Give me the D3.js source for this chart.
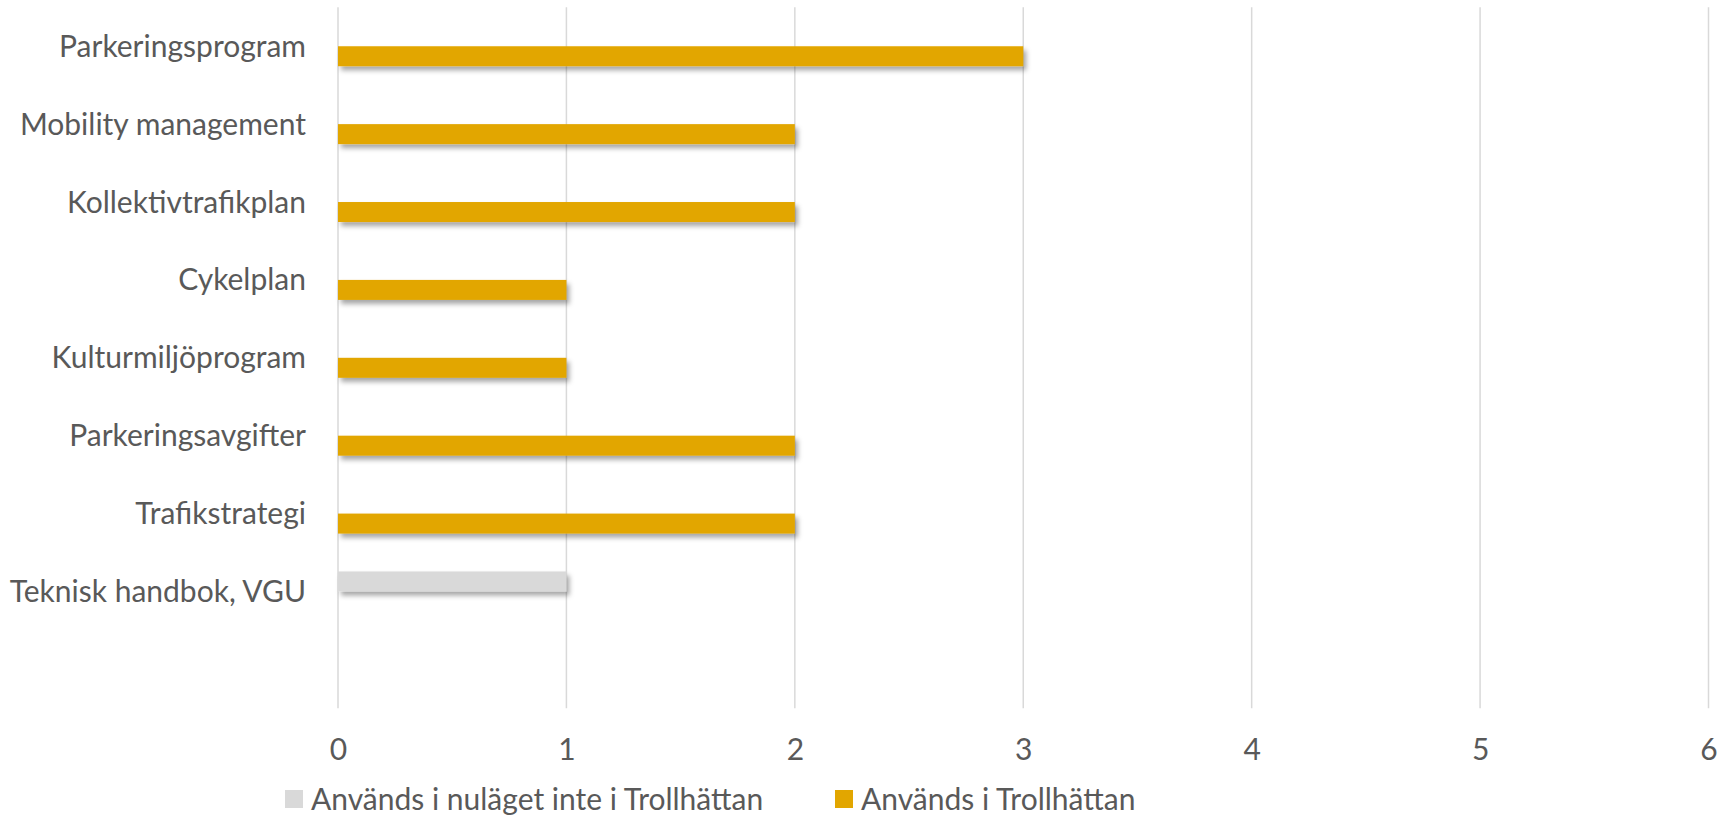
<!DOCTYPE html>
<html>
<head>
<meta charset="utf-8">
<script src="https://cdn.jsdelivr.net/npm/d3@7"></script>
<style>
  html, body { margin: 0; padding: 0; background: #fff; }
  svg { display: block; }
  text { font-family: Lato, "Open Sans", sans-serif; fill: #595959; }
</style>
</head>
<body>
<svg id="chart" width="1729" height="815"></svg>
<script>
const categories = ["Parkeringsprogram", "Mobility management", "Kollektivtrafikplan", "Cykelplan",
  "Kulturmiljöprogram", "Parkeringsavgifter", "Trafikstrategi", "Teknisk handbok, VGU", ""];
const seriesNames = ["Används i nuläget inte i Trollhättan", "Används i Trollhättan"];
const notUsed = [0, 0, 0, 0, 0, 0, 0, 1, null];
const used = [3, 2, 2, 1, 1, 2, 2, 0, null];
const xTicks = [0, 1, 2, 3, 4, 5, 6];
const colors = ["#D9D9D9", "#E2A600"];

const svg = d3.select("#chart");
const fontSize = 30;

const defs = svg.append("defs");
const f = defs.append("filter").attr("id", "shadow").attr("x", "-5%").attr("y", "-50%").attr("width", "115%").attr("height", "250%");
f.append("feDropShadow").attr("dx", 3).attr("dy", 4).attr("stdDeviation", 2.5)
  .attr("flood-color", "#000").attr("flood-opacity", 0.35);

const x = d3.scaleLinear().domain([0, 6]).range([338, 1708.5]);
const y = d3.scaleBand().domain(categories.map((c, i) => i)).range([7.3, 708.3]).padding(0);
const barH = 20;
const sub = d3.scaleBand().domain([0, 1])
  .range([y.bandwidth() / 2 - barH, y.bandwidth() / 2 + barH]).padding(0);

// gridlines
const grid = svg.append("g").attr("class", "grid");
grid.selectAll("line").data(xTicks).join("line")
  .attr("x1", d => x(d)).attr("x2", d => x(d))
  .attr("y1", y.range()[0]).attr("y2", y.range()[1])
  .attr("stroke", "#D9D9D9").attr("stroke-width", 1.5);

// x axis labels
const xAxis = d3.axisBottom(x).tickValues(xTicks).tickSize(0).tickPadding(0).tickFormat(d3.format("d"));
const xg = svg.append("g").attr("transform", "translate(0,749)").call(xAxis);
xg.select(".domain").remove();
xg.selectAll("text").attr("dy", "0.35em").attr("font-size", fontSize)
  .style("font-family", "Lato, 'Open Sans', sans-serif").attr("fill", "#595959");

// y axis labels
const yAxis = d3.axisLeft(y).tickSize(0).tickPadding(0).tickFormat(i => categories[i]);
const yg = svg.append("g").attr("transform", "translate(306,0)").call(yAxis);
yg.select(".domain").remove();
yg.selectAll("text").attr("dy", "0.35em").attr("font-size", fontSize)
  .style("font-family", "Lato, 'Open Sans', sans-serif").attr("fill", "#595959");

// bars
const seriesData = [notUsed, used];
seriesData.forEach((vals, s) => {
  svg.append("g").attr("filter", "url(#shadow)")
    .selectAll("rect").data(vals.map((v, i) => ({v, i})).filter(d => d.v != null && d.v > 0))
    .join("rect")
    .attr("x", x(0))
    .attr("y", d => y(d.i) + sub(s))
    .attr("width", d => x(d.v) - x(0))
    .attr("height", sub.bandwidth())
    .attr("fill", colors[s]);
});

// legend
const legendX = [285, 835];
const lg = svg.append("g");
seriesNames.forEach((name, s) => {
  lg.append("rect").attr("x", legendX[s]).attr("y", 790).attr("width", 18).attr("height", 18).attr("fill", colors[s]);
  lg.append("text").attr("x", legendX[s] + 26).attr("y", 799).attr("dy", "0.35em")
    .attr("font-size", fontSize).text(name);
});
</script>
</body>
</html>
